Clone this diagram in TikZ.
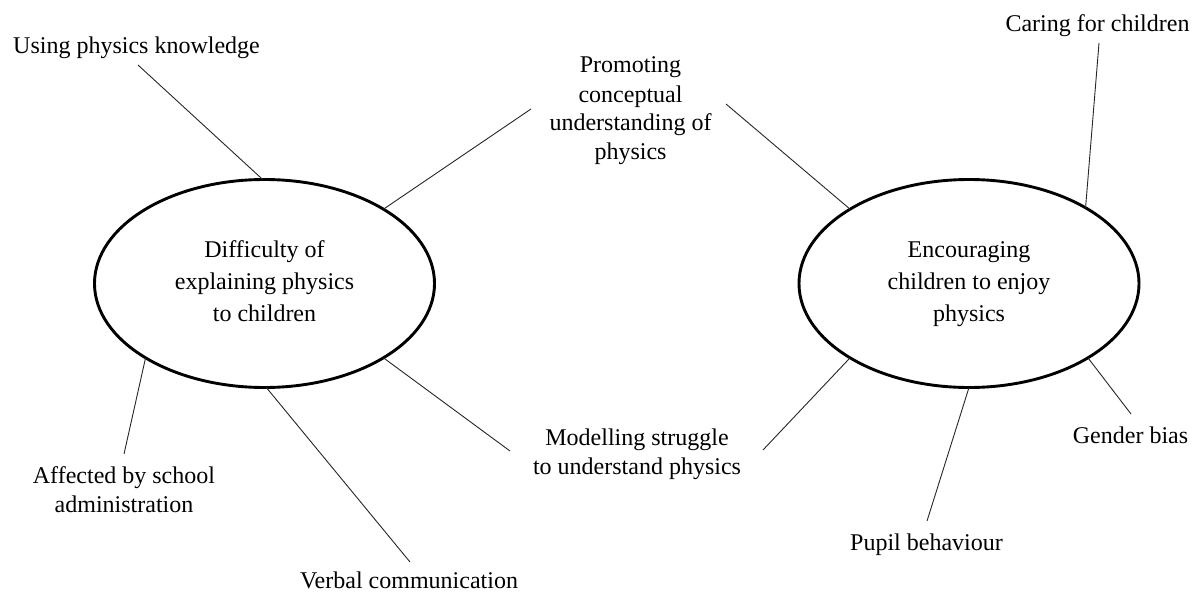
\documentclass[tikz,border=0pt]{standalone}
\usepackage{fontspec}
\setmainfont{Liberation Serif}
\usetikzlibrary{shapes.geometric}
\begin{document}
\begin{tikzpicture}[x=1pt,y=-1pt,
  lbl/.style={font=\fontsize{24}{29}\selectfont, inner sep=0pt, anchor=base},
  topic/.style={draw, ellipse, line width=2.9pt, minimum width=340pt, minimum height=208pt,
    inner sep=0pt, outer sep=0pt, font=\fontsize{24}{32}\selectfont},
  link/.style={line width=0.9pt, draw=black!85}]
\useasboundingbox (0,0) rectangle (1199,594);

% central topics
\node[topic] (L) at (264.5,283.5) {\raisebox{3.5pt}{\begin{tabular}{@{}c@{}}Difficulty of\\explaining physics\\to children\end{tabular}}};
\node[topic] (R) at (969,283.5) {\raisebox{3.5pt}{\begin{tabular}{@{}c@{}}Encouraging\\children to enjoy\\physics\end{tabular}}};

% labels
\node[lbl] (using) at (136.5,53) {Using physics knowledge};
\node[lbl] (caring) at (1097.5,32) {Caring for children};
\node[lbl] (prom) at (630.5,73) {\begin{tabular}[t]{@{}c@{}}Promoting\\conceptual\\understanding of\\physics\end{tabular}};
\node[lbl] (model) at (637,445) {\begin{tabular}[t]{@{}c@{}}Modelling struggle\\to understand physics\end{tabular}};
\node[lbl] (affect) at (124,483) {\begin{tabular}[t]{@{}c@{}}Affected by school\\administration\end{tabular}};
\node[lbl] (verbal) at (409,588) {Verbal communication};
\node[lbl] (pupil) at (926.5,550) {Pupil behaviour};
\node[lbl] (gender) at (1130.5,443) {Gender bias};

% connector ends near labels
\coordinate (usingE) at (138,65);
\coordinate (promLE) at (531,109);
\coordinate (promRE) at (726,104);
\coordinate (caringE) at (1099,43);
\coordinate (modelLE) at (510,451);
\coordinate (modelRE) at (763,450);
\coordinate (verbalE) at (410,562);
\coordinate (affectE) at (124,454);
\coordinate (pupilE) at (927,521);
\coordinate (genderE) at (1131,414);

% connectors
\draw[link] (usingE) -- (L.91);
\draw[link] (promLE) -- (L.32);
\draw[link] (modelLE) -- (L.328);
\draw[link] (verbalE) -- (L.271);
\draw[link] (affectE) -- (L.212);
\draw[link] (promRE) -- (R.148);
\draw[link] (caringE) -- (R.33);
\draw[link] (modelRE) -- (R.212);
\draw[link] (pupilE) -- (R.270);
\draw[link] (genderE) -- (R.328);
\end{tikzpicture}
\end{document}
